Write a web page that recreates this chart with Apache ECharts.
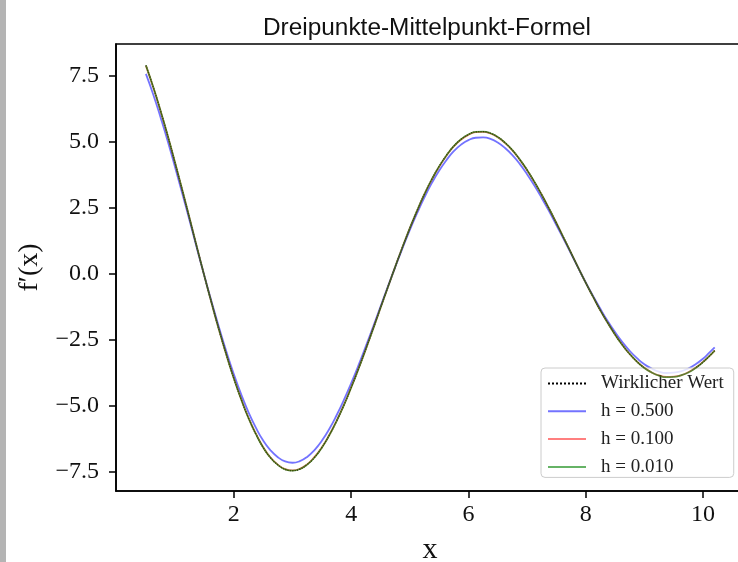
<!DOCTYPE html>
<html>
<head>
<meta charset="utf-8">
<script src="https://cdn.jsdelivr.net/npm/echarts@6/dist/echarts.min.js"></script>
<style>
  html, body { margin: 0; padding: 0; background: #ffffff; }
  #chart { width: 738px; height: 562px; }
</style>
</head>
<body>
<div id="chart"></div>
<script>
// Sample points along x
const xs = [0.5, 0.625, 0.75, 0.875, 1.0, 1.125, 1.25, 1.375, 1.5, 1.625, 1.75, 1.875,
            2.0, 2.125, 2.25, 2.375, 2.5, 2.625, 2.75, 2.875, 3.0, 3.125, 3.25, 3.375,
            3.5, 3.625, 3.75, 3.875, 4.0, 4.125, 4.25, 4.375, 4.5, 4.625, 4.75, 4.875,
            5.0, 5.125, 5.25, 5.375, 5.5, 5.625, 5.75, 5.875, 6.0, 6.125, 6.25, 6.375,
            6.5, 6.625, 6.75, 6.875, 7.0, 7.125, 7.25, 7.375, 7.5, 7.625, 7.75, 7.875,
            8.0, 8.125, 8.25, 8.375, 8.5, 8.625, 8.75, 8.875, 9.0, 9.125, 9.25, 9.375,
            9.5, 9.625, 9.75, 9.875, 10.0, 10.1, 10.2];

// Exact derivative
const trueVals = [7.90, 7.08, 6.18, 5.22, 4.19, 3.14, 2.06, 0.97, -0.10, -1.14, -2.14, -3.08,
                  -3.96, -4.75, -5.46, -6.06, -6.57, -6.96, -7.23, -7.40, -7.45, -7.39, -7.22, -6.95,
                  -6.58, -6.12, -5.58, -4.98, -4.31, -3.60, -2.85, -2.08, -1.29, -0.51, 0.26, 1.01,
                  1.73, 2.40, 3.02, 3.58, 4.07, 4.49, 4.84, 5.10, 5.28, 5.38, 5.39, 5.33,
                  5.19, 4.97, 4.69, 4.34, 3.94, 3.49, 3.00, 2.48, 1.93, 1.37, 0.80, 0.23,
                  -0.33, -0.86, -1.38, -1.85, -2.29, -2.69, -3.03, -3.32, -3.56, -3.73, -3.85, -3.91,
                  -3.90, -3.84, -3.73, -3.56, -3.34, -3.13, -2.90];

// Central difference, step h = 0.5
const vals500 = [7.58, 6.80, 5.93, 5.01, 4.02, 3.01, 1.98, 0.93, -0.10, -1.09, -2.05, -2.96,
                 -3.80, -4.56, -5.24, -5.82, -6.31, -6.68, -6.94, -7.10, -7.15, -7.09, -6.93, -6.67,
                 -6.32, -5.88, -5.36, -4.78, -4.14, -3.46, -2.74, -2.00, -1.24, -0.49, 0.25, 0.97,
                 1.66, 2.30, 2.90, 3.44, 3.91, 4.31, 4.65, 4.90, 5.07, 5.16, 5.17, 5.12,
                 4.98, 4.77, 4.50, 4.17, 3.78, 3.35, 2.88, 2.38, 1.85, 1.32, 0.77, 0.22,
                 -0.32, -0.83, -1.32, -1.78, -2.20, -2.58, -2.91, -3.19, -3.42, -3.58, -3.70, -3.75,
                 -3.74, -3.69, -3.58, -3.42, -3.21, -3.00, -2.78];

// Central difference, step h = 0.1
const vals100 = [7.89, 7.07, 6.17, 5.21, 4.18, 3.13, 2.06, 0.97, -0.10, -1.14, -2.14, -3.08,
                 -3.95, -4.74, -5.45, -6.05, -6.56, -6.95, -7.22, -7.39, -7.44, -7.38, -7.21, -6.93,
                 -6.57, -6.11, -5.57, -4.97, -4.30, -3.59, -2.85, -2.07, -1.29, -0.51, 0.26, 1.01,
                 1.73, 2.39, 3.02, 3.57, 4.06, 4.48, 4.83, 5.09, 5.27, 5.37, 5.38, 5.32,
                 5.18, 4.96, 4.68, 4.33, 3.93, 3.48, 3.00, 2.47, 1.93, 1.36, 0.80, 0.23,
                 -0.33, -0.86, -1.38, -1.85, -2.29, -2.68, -3.03, -3.32, -3.55, -3.73, -3.84, -3.90,
                 -3.89, -3.84, -3.72, -3.55, -3.33, -3.13, -2.90];

// Central difference, step h = 0.01
const vals010 = [7.90, 7.08, 6.18, 5.22, 4.19, 3.14, 2.06, 0.97, -0.10, -1.14, -2.14, -3.08,
                 -3.96, -4.75, -5.46, -6.06, -6.57, -6.96, -7.23, -7.40, -7.45, -7.39, -7.22, -6.95,
                 -6.58, -6.12, -5.58, -4.98, -4.31, -3.60, -2.85, -2.08, -1.29, -0.51, 0.26, 1.01,
                 1.73, 2.40, 3.02, 3.58, 4.07, 4.49, 4.84, 5.10, 5.28, 5.38, 5.39, 5.33,
                 5.19, 4.97, 4.69, 4.34, 3.94, 3.49, 3.00, 2.48, 1.93, 1.37, 0.80, 0.23,
                 -0.33, -0.86, -1.38, -1.85, -2.29, -2.69, -3.03, -3.32, -3.56, -3.73, -3.85, -3.91,
                 -3.90, -3.84, -3.73, -3.56, -3.34, -3.13, -2.90];

const seriesNames = ['Wirklicher Wert', 'h = 0.500', 'h = 0.100', 'h = 0.010'];
const xTicks = [2, 4, 6, 8, 10];
const yTicks = [-7.5, -5.0, -2.5, 0.0, 2.5, 5.0, 7.5];

const pairs = vals => xs.map((x, i) => [x, vals[i]]);
const fmtY = v => (v < 0 ? '\u2212' : '') + Math.abs(v).toFixed(1);

const serif = 'Liberation Serif';

const chart = echarts.init(document.getElementById('chart'), null, { renderer: 'canvas' });

function lineSeries(name, vals, color, width, type, z) {
  return {
    name: name,
    type: 'line',
    data: pairs(vals),
    smooth: 0.5,
    symbol: 'none',
    showSymbol: false,
    z: z,
    lineStyle: { color: color, width: width, type: type },
    itemStyle: { color: color },
    emphasis: { disabled: true },
    animation: false
  };
}

chart.setOption({
  animation: false,
  backgroundColor: '#ffffff',
  title: {
    text: 'Dreipunkte-Mittelpunkt-Formel',
    left: 422,
    textAlign: 'center',
    top: 11,
    textStyle: { fontFamily: 'Liberation Sans', fontSize: 24.4, fontWeight: 'normal', color: '#111' }
  },
  grid: {
    left: 116,
    top: 44,
    width: 628,
    height: 447,
    outerBoundsMode: 'none',
    containLabel: false,
    show: true,
    borderColor: '#000',
    borderWidth: 1.6,
    backgroundColor: 'transparent'
  },
  xAxis: {
    type: 'value',
    min: -0.01,
    max: 10.7,
    name: 'x',
    nameLocation: 'middle',
    nameGap: 44,
    nameTextStyle: { fontFamily: serif, fontSize: 30, color: '#111' },
    axisLine: { show: true, onZero: false, lineStyle: { color: '#000', width: 1.6 } },
    axisTick: { show: true, length: 7, lineStyle: { color: '#000', width: 1.5 }, customValues: xTicks },
    axisLabel: { margin: 12, fontFamily: serif, fontSize: 24, color: '#111', customValues: xTicks },
    splitLine: { show: false }
  },
  yAxis: {
    type: 'value',
    min: -8.22,
    max: 8.71,
    name: 'f\u2032(x)',
    nameLocation: 'middle',
    nameRotate: 90,
    nameGap: 72,
    nameTextStyle: { fontFamily: serif, fontSize: 28, color: '#111' },
    axisLine: { show: true, onZero: false, lineStyle: { color: '#000', width: 1.6 } },
    axisTick: { show: true, length: 7, lineStyle: { color: '#000', width: 1.5 }, customValues: yTicks },
    axisLabel: { margin: 17, fontFamily: serif, fontSize: 24, color: '#111', customValues: yTicks, formatter: fmtY },
    splitLine: { show: false }
  },
  legend: {
    orient: 'vertical',
    left: 541,
    top: 368,
    padding: [6, 10, 1, 6],
    itemWidth: 38,
    itemHeight: 18,
    itemGap: 8.8,
    itemStyle: { opacity: 0 },
    backgroundColor: 'rgba(255,255,255,0.8)',
    borderColor: '#cccccc',
    borderWidth: 1,
    borderRadius: 4,
    data: seriesNames,
    textStyle: {
      fontFamily: serif,
      fontSize: 19,
      color: '#222',
      padding: [0, 0, 0, 10]
    }
  },
  series: [
    lineSeries(seriesNames[0], trueVals, '#000000', 1.2, 'dotted', 2),
    lineSeries(seriesNames[1], vals500, 'rgba(0,0,255,0.55)', 1.8, 'solid', 3),
    lineSeries(seriesNames[2], vals100, 'rgba(255,0,0,0.5)', 1.8, 'solid', 4),
    lineSeries(seriesNames[3], vals010, 'rgba(0,128,0,0.6)', 1.8, 'solid', 5)
  ],
  graphic: [
    {
      type: 'rect',
      left: 0,
      top: 0,
      shape: { width: 6, height: 562 },
      style: { fill: '#b4b4b4' },
      silent: true
    }
  ]
});
</script>
</body>
</html>
